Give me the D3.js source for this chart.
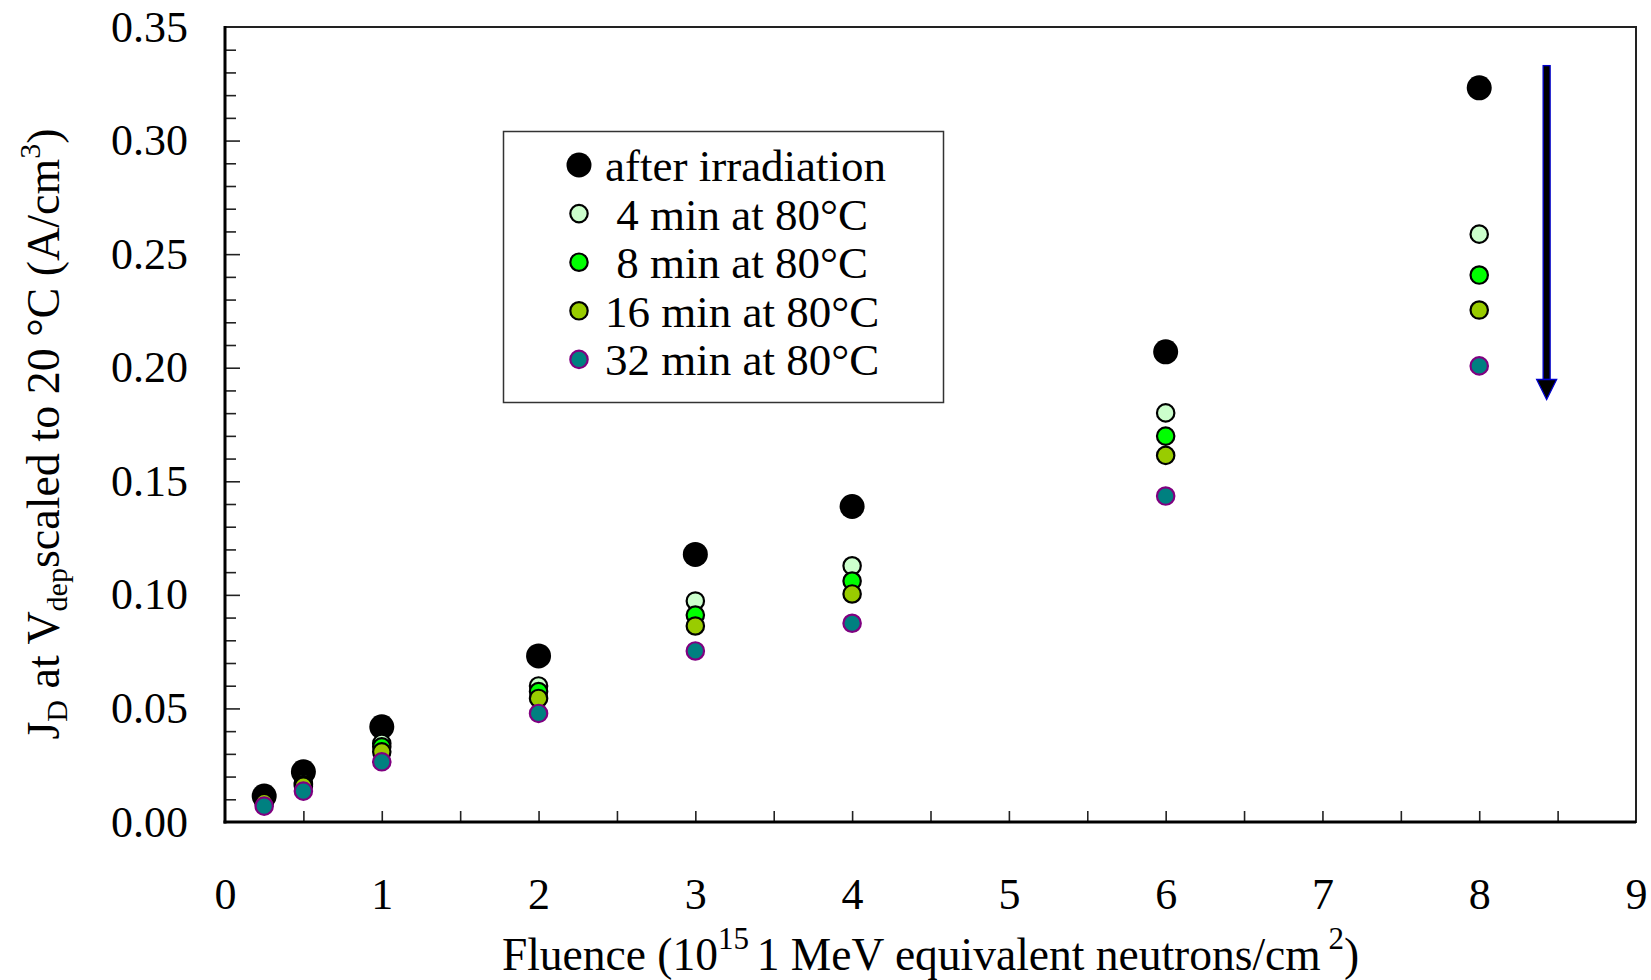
<!DOCTYPE html>
<html>
<head>
<meta charset="utf-8">
<script src="https://cdn.jsdelivr.net/npm/d3@7/dist/d3.min.js"></script>
<style>
  html, body { margin: 0; padding: 0; background: #fff; }
  svg { display: block; font-family: "Liberation Serif", "Times New Roman", serif; }
  text { white-space: pre; }
</style>
</head>
<body>
<svg id="chart" width="1651" height="980"></svg>
<script>
// ---- data ----
const fluence = [0.25, 0.5, 1, 2, 3, 4, 6, 8];
const afterIrradiation = [0.0114, 0.0221, 0.0419, 0.0731, 0.1178, 0.1389, 0.2070, 0.3232];
const min4  = [0.0095, 0.0172, 0.0346, 0.0599, 0.0973, 0.1128, 0.1801, 0.2588];
const min8  = [0.0090, 0.0165, 0.0331, 0.0574, 0.0911, 0.1061, 0.1699, 0.2408];
const min16 = [0.0085, 0.0158, 0.0309, 0.0544, 0.0863, 0.1004, 0.1614, 0.2254];
const min32 = [0.0070, 0.0136, 0.0265, 0.0478, 0.0753, 0.0875, 0.1435, 0.2008];
const seriesNames = ["after irradiation", " 4 min at 80°C", " 8 min at 80°C", "16 min at 80°C", "32 min at 80°C"];
const xTicks = [0, 1, 2, 3, 4, 5, 6, 7, 8, 9];
const yTicks = [0, 0.05, 0.10, 0.15, 0.20, 0.25, 0.30, 0.35];
const arrowX = 8.43;
const arrowY = [0.333, 0.186];

// ---- styles ----
const styles = [
  { fill: "#000000", stroke: "#000000", r: 12.5, sw: 0 },
  { fill: "#ccffcc", stroke: "#000000", r: 8.7, sw: 2.2 },
  { fill: "#00ff00", stroke: "#000000", r: 8.7, sw: 2.2 },
  { fill: "#99cc00", stroke: "#000000", r: 8.7, sw: 2.2 },
  { fill: "#008080", stroke: "#800080", r: 8.7, sw: 2.2 }
];
const seriesValues = [afterIrradiation, min4, min8, min16, min32];

const W = 1651, H = 980;
const margin = { left: 225, right: 15, top: 27, bottom: 158 };
const x = d3.scaleLinear().domain([0, 9]).range([margin.left, W - margin.right]);
const y = d3.scaleLinear().domain([0, 0.35]).range([H - margin.bottom, margin.top]);

const svg = d3.select("#chart");
const FS = 44;

// Y axis major ticks with labels
const yMajor = svg.append("g").attr("transform", `translate(${x(0)},0)`)
  .call(d3.axisLeft(y).tickValues(yTicks).tickSize(-15).tickSizeOuter(0).tickPadding(37).tickFormat(d3.format(".2f")));
// Y minor ticks
const yMinorVals = d3.range(0, 36).map(i => i / 100).filter(v => Math.round(v * 100) % 5 !== 0);
const yMinor = svg.append("g").attr("transform", `translate(${x(0)},0)`)
  .call(d3.axisLeft(y).tickValues(yMinorVals).tickSize(-11).tickSizeOuter(0).tickFormat(""));
// X axis ticks
const xMajor = svg.append("g").attr("transform", `translate(0,${y(0)})`)
  .call(d3.axisBottom(x).tickValues(xTicks).tickSize(-11).tickSizeOuter(0).tickPadding(56).tickFormat(d3.format("d")));
const xMinorVals = d3.range(0, 9).map(i => i + 0.5);
const xMinor = svg.append("g").attr("transform", `translate(0,${y(0)})`)
  .call(d3.axisBottom(x).tickValues(xMinorVals).tickSize(-11).tickSizeOuter(0).tickFormat(""));

[yMajor, yMinor, xMajor, xMinor].forEach(g => {
  g.select(".domain").remove();
  g.selectAll(".tick line").attr("stroke", "#222").attr("stroke-width", 1.6);
  g.selectAll(".tick text").attr("font-size", FS).attr("fill", "#000")
    .attr("font-family", "Liberation Serif, Times New Roman, serif");
});
xMajor.selectAll(".tick").filter(d => d === 0 || d === 9).select("line").remove();
yMajor.selectAll(".tick").filter(d => d === 0 || d === 0.35).select("line").remove();

// frame
svg.append("rect")
  .attr("x", x(0)).attr("y", y(0.35))
  .attr("width", x(9) - x(0)).attr("height", y(0) - y(0.35))
  .attr("fill", "none").attr("stroke", "#222").attr("stroke-width", 2);
svg.append("line").attr("x1", x(0)).attr("x2", x(0)).attr("y1", y(0.35) - 1).attr("y2", y(0) + 1.5)
  .attr("stroke", "#000").attr("stroke-width", 3);
svg.append("line").attr("x1", x(0) - 1.5).attr("x2", x(9)).attr("y1", y(0)).attr("y2", y(0))
  .attr("stroke", "#000").attr("stroke-width", 3);

// data points
seriesValues.forEach((vals, si) => {
  const st = styles[si];
  svg.append("g").selectAll("circle")
    .data(fluence.map((f, i) => [f, vals[i]]))
    .join("circle")
    .attr("cx", d => x(d[0])).attr("cy", d => y(d[1]))
    .attr("r", st.r).attr("fill", st.fill)
    .attr("stroke", st.stroke).attr("stroke-width", st.sw);
});

// arrow annotation
const ax = x(arrowX), ay0 = y(arrowY[0]), ay1 = y(arrowY[1]);
const headH = 20, headW = 10, shaftW = 7;
svg.append("rect")
  .attr("x", ax - shaftW / 2).attr("y", ay0)
  .attr("width", shaftW).attr("height", ay1 - headH - ay0)
  .attr("fill", "#000").attr("stroke", "#0000cc").attr("stroke-width", 1.3);
svg.append("path")
  .attr("d", `M${ax - headW},${ay1 - headH} L${ax + headW},${ay1 - headH} L${ax},${ay1} Z`)
  .attr("fill", "#000").attr("stroke", "#0000cc").attr("stroke-width", 1.3);

// legend
const lg = svg.append("g");
lg.append("rect").attr("x", 503.5).attr("y", 131.5).attr("width", 440).attr("height", 271)
  .attr("fill", "#fff").attr("stroke", "#333").attr("stroke-width", 1.5);
seriesNames.forEach((name, i) => {
  const st = styles[i];
  const cy = 165 + i * 48.6;
  lg.append("circle").attr("cx", 579).attr("cy", cy).attr("r", st.r)
    .attr("fill", st.fill).attr("stroke", st.stroke).attr("stroke-width", st.sw);
  lg.append("text").attr("x", 605).attr("y", cy + 16).attr("font-size", 45).text(name);
});

// x axis title
const xt = svg.append("text").attr("x", (x(0) + x(9)) / 2).attr("y", 970)
  .attr("text-anchor", "middle").attr("font-size", 45.5);
xt.append("tspan").text("Fluence (10");
xt.append("tspan").attr("font-size", 31).attr("dy", -21).text("15 ");
xt.append("tspan").attr("dy", 21).text("1 MeV equivalent neutrons/cm");
xt.append("tspan").attr("font-size", 31).attr("dy", -21).text(" 2");
xt.append("tspan").attr("dy", 21).text(")");

// y axis title
const yt = svg.append("text").attr("transform", `translate(59,434) rotate(-90)`)
  .attr("text-anchor", "middle").attr("font-size", 46);
yt.append("tspan").text("J");
yt.append("tspan").attr("font-size", 30).attr("dy", 8).text("D");
yt.append("tspan").attr("dy", -8).text(" at V");
yt.append("tspan").attr("font-size", 30).attr("dy", 8).text("dep");
yt.append("tspan").attr("dy", -8).text("scaled to 20 °C (A/cm");
yt.append("tspan").attr("font-size", 30).attr("dy", -19).text("3");
yt.append("tspan").attr("dy", 19).text(")");
</script>
</body>
</html>
